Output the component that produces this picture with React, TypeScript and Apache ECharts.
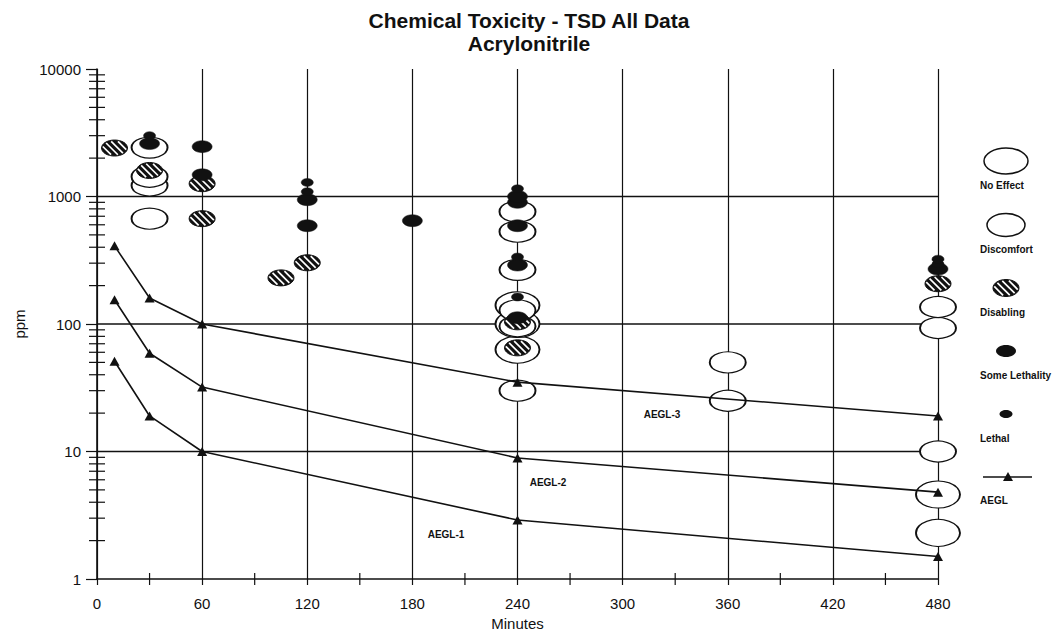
import React, { useEffect, useRef } from "react";
import * as echarts from "echarts";

const FONT = "'Liberation Sans', Arial, Helvetica, sans-serif";
const INK = "#111";

// Axis structure
const xMin = 0;
const xMax = 480;
const xInterval = 60;
const xMinorTicks = [30, 90, 150, 210, 270, 330, 390, 450];
const yMin = 1;
const yMax = 10000;
const yGridValues = [10, 100, 1000];
const yMinorTicks = [
  2, 3, 4, 5, 6, 7, 8, 9,
  20, 30, 40, 50, 60, 70, 80, 90,
  200, 300, 400, 500, 600, 700, 800, 900,
  2000, 3000, 4000, 5000, 6000, 7000, 8000, 9000,
];

// AEGL lines
const aeglMinutes = [10, 30, 60, 240, 480];
const aegl3 = [410, 160, 100, 35, 19];
const aegl2 = [155, 59, 32, 8.9, 4.8];
const aegl1 = [51, 19, 10, 2.9, 1.5];

// Toxicity observations [minutes, ppm]
const noEffect = [
  [240, 63], [240, 100], [240, 140], [480, 2.3], [480, 4.6],
];
const discomfort = [
  [30, 670], [30, 1220], [30, 1430], [30, 2420],
  [240, 30], [240, 96], [240, 128], [240, 266], [240, 530], [240, 760],
  [360, 25], [360, 50],
  [480, 10], [480, 93], [480, 136],
];
const disabling = [
  [10, 2400], [30, 1600], [60, 670], [60, 1260], [105, 230], [120, 302],
  [240, 65], [240, 104], [480, 207],
];
const someLethality = [
  [30, 2600], [60, 1480], [60, 2460], [120, 590], [120, 944], [180, 646],
  [240, 112], [240, 290], [240, 590], [240, 900], [240, 1000], [480, 270],
];
const lethal = [
  [30, 3000], [120, 1090], [120, 1290], [240, 163], [240, 335], [240, 1150],
  [480, 295], [480, 322],
];

const legendItems = ["No Effect", "Discomfort", "Disabling", "Some Lethality", "Lethal", "AEGL"];
const aeglLabels = ["AEGL-3", "AEGL-2", "AEGL-1"];

function hatchSegments(cx: number, cy: number, rx: number, ry: number, spacing: number) {
  const d = [Math.SQRT1_2, Math.SQRT1_2];
  const n = [Math.SQRT1_2, -Math.SQRT1_2];
  const irx = rx - 1;
  const iry = ry - 1;
  const A = (d[0] * d[0]) / (irx * irx) + (d[1] * d[1]) / (iry * iry);
  const segs: any[] = [];
  for (let k = -6; k <= 6; k++) {
    const t = (k + 0.5) * spacing;
    const ux = t * n[0];
    const uy = t * n[1];
    const B = 2 * ((ux * d[0]) / (irx * irx) + (uy * d[1]) / (iry * iry));
    const C = (ux * ux) / (irx * irx) + (uy * uy) / (iry * iry) - 1;
    const disc = B * B - 4 * A * C;
    if (disc <= 0) continue;
    const s1 = (-B - Math.sqrt(disc)) / (2 * A);
    const s2 = (-B + Math.sqrt(disc)) / (2 * A);
    if (s2 - s1 < 3) continue;
    segs.push({
      x1: cx + ux + s1 * d[0], y1: cy + uy + s1 * d[1],
      x2: cx + ux + s2 * d[0], y2: cy + uy + s2 * d[1],
    });
  }
  return segs;
}

function hatchedEllipse(cx: number, cy: number, rx: number, ry: number) {
  const children: any[] = [
    { type: "ellipse", shape: { cx, cy, rx, ry }, style: { fill: INK, stroke: INK, lineWidth: 1 } },
  ];
  hatchSegments(cx, cy, rx, ry, 4.8).forEach((s) =>
    children.push({ type: "line", shape: s, style: { stroke: "#fff", lineWidth: 1.7 } })
  );
  return children;
}

const openStyle = { color: "#fff", borderColor: INK, borderWidth: 1.5, opacity: 1 };
const blackStyle = { color: INK, borderColor: INK, borderWidth: 0.5, opacity: 1 };

function aeglSeries(name: string, vals: number[]) {
  return {
    type: "line",
    name,
    data: aeglMinutes.map((m, i) => [m, vals[i]]),
    symbol: "triangle",
    symbolSize: [10, 9],
    showSymbol: true,
    lineStyle: { color: INK, width: 1.6 },
    itemStyle: { color: INK },
    emphasis: { disabled: true },
    silent: true,
    z: 8,
  };
}

export default function App() {
  const ref = useRef<HTMLDivElement>(null);
  useEffect(() => {
    if (!ref.current) return;
    const chart = echarts.init(ref.current, undefined, { renderer: "svg" });

    const legendX = 1006;
    const labelX = 980;
    const rowY = [161, 225, 288, 351, 414, 477];
    const labelY = [185, 249, 312, 375, 438, 500];
    const txt = (text: string, x: number, y: number, size: number, weight = "bold", align = "left") => ({
      type: "text",
      style: {
        text, x, y, fill: INK, fontSize: size, fontWeight: weight, fontFamily: FONT,
        textAlign: align, textVerticalAlign: "middle",
      },
      silent: true,
    });

    const graphic: any[] = [
      txt("Chemical Toxicity - TSD All Data", 529, 20, 21, "bold", "center"),
      txt("Acrylonitrile", 529, 43, 21, "bold", "center"),
      { type: "ellipse", shape: { cx: legendX, cy: rowY[0], rx: 22, ry: 13 }, style: { fill: "#fff", stroke: INK, lineWidth: 1.5 } },
      { type: "ellipse", shape: { cx: legendX, cy: rowY[1], rx: 19, ry: 11.5 }, style: { fill: "#fff", stroke: INK, lineWidth: 1.5 } },
      { type: "group", children: hatchedEllipse(legendX, rowY[2], 13, 8.5) },
      { type: "ellipse", shape: { cx: legendX, cy: rowY[3], rx: 10, ry: 6 }, style: { fill: INK } },
      { type: "ellipse", shape: { cx: legendX, cy: rowY[4], rx: 6.5, ry: 4 }, style: { fill: INK } },
      { type: "line", shape: { x1: 983, y1: rowY[5], x2: 1032, y2: rowY[5] }, style: { stroke: INK, lineWidth: 1.6 } },
      { type: "polygon", shape: { points: [[1008, rowY[5] - 5], [1013, rowY[5] + 4], [1003, rowY[5] + 4]] }, style: { fill: INK } },
      ...legendItems.map((t, i) => txt(t, labelX, labelY[i], 10)),
      txt(aeglLabels[0], 662, 414, 10, "bold", "center"),
      txt(aeglLabels[1], 548, 482, 10, "bold", "center"),
      txt(aeglLabels[2], 446, 534, 10, "bold", "center"),
    ];

    const option: any = {
      animation: false,
      backgroundColor: "#fff",
      textStyle: { fontFamily: FONT, color: INK },
      grid: { left: 97, right: 115, top: 69, bottom: 56, containLabel: false, outerBoundsMode: "none" },
      xAxis: {
        type: "value",
        min: xMin,
        max: xMax,
        interval: xInterval,
        name: "Minutes",
        nameLocation: "middle",
        nameGap: 35,
        nameTextStyle: { fontSize: 15, color: INK, fontFamily: FONT },
        axisLine: { show: true, onZero: false, lineStyle: { color: INK, width: 1.6 } },
        axisTick: { show: true, length: 6, lineStyle: { color: INK, width: 1.2 } },
        axisLabel: { fontSize: 15, color: INK, margin: 17, fontFamily: FONT },
        splitLine: { show: true, lineStyle: { color: INK, width: 1.2 } },
      },
      yAxis: {
        type: "log",
        logBase: 10,
        min: yMin,
        max: yMax,
        name: "ppm",
        nameLocation: "middle",
        nameGap: 70,
        nameRotate: 90,
        nameTextStyle: { fontSize: 15, color: INK, fontFamily: FONT },
        axisLine: { show: true, lineStyle: { color: INK, width: 1.6 } },
        axisTick: { show: true, length: 11, lineStyle: { color: INK, width: 1.2 } },
        axisLabel: {
          fontSize: 15, color: INK, margin: 16, fontFamily: FONT,
          formatter: (v: number) => String(Math.round(v)),
        },
        splitLine: { show: false },
      },
      graphic,
      series: [
        {
          type: "custom",
          name: "grid",
          data: yGridValues.map((v) => [xMin, v]),
          silent: true,
          z: 1,
          renderItem: (_p: any, api: any) => {
            const v = api.value(1);
            const a = api.coord([xMin, v]);
            const b = api.coord([xMax, v]);
            return { type: "line", shape: { x1: a[0], y1: a[1], x2: b[0], y2: b[1] }, style: { stroke: INK, lineWidth: 1.4 } };
          },
        },
        {
          type: "custom",
          name: "yMinor",
          data: yMinorTicks.map((v) => [xMin, v]),
          silent: true,
          z: 1,
          renderItem: (_p: any, api: any) => {
            const a = api.coord([xMin, api.value(1)]);
            return { type: "line", shape: { x1: a[0] - 8, y1: a[1], x2: a[0] + 8, y2: a[1] }, style: { stroke: INK, lineWidth: 1.2 } };
          },
        },
        {
          type: "custom",
          name: "xMinor",
          data: xMinorTicks.map((v) => [v, yMin]),
          silent: true,
          z: 1,
          renderItem: (_p: any, api: any) => {
            const a = api.coord([api.value(0), yMin]);
            return { type: "line", shape: { x1: a[0], y1: a[1] - 6, x2: a[0], y2: a[1] + 6 }, style: { stroke: INK, lineWidth: 1.2 } };
          },
        },
        {
          type: "scatter", name: "No Effect", data: noEffect, symbol: "circle", symbolSize: [44, 27],
          itemStyle: openStyle, silent: true, z: 2,
        },
        {
          type: "scatter", name: "Discomfort", data: discomfort, symbol: "circle", symbolSize: [36, 21],
          itemStyle: openStyle, silent: true, z: 3,
        },
        {
          type: "custom", name: "Disabling", data: disabling, silent: true, z: 4,
          renderItem: (_p: any, api: any) => {
            const c = api.coord([api.value(0), api.value(1)]);
            return { type: "group", children: hatchedEllipse(c[0], c[1], 13, 8) };
          },
        },
        {
          type: "scatter", name: "Some Lethality", data: someLethality, symbol: "circle", symbolSize: [20, 12],
          itemStyle: blackStyle, silent: true, z: 5,
        },
        {
          type: "scatter", name: "Lethal", data: lethal, symbol: "circle", symbolSize: [12, 8],
          itemStyle: blackStyle, silent: true, z: 6,
        },
        aeglSeries("AEGL-3", aegl3),
        aeglSeries("AEGL-2", aegl2),
        aeglSeries("AEGL-1", aegl1),
      ],
    };
    chart.setOption(option);
    return () => chart.dispose();
  }, []);

  return (
    <div
      ref={ref}
      style={{ position: "fixed", left: 0, top: 0, width: 1053, height: 635, background: "#fff" }}
    />
  );
}
